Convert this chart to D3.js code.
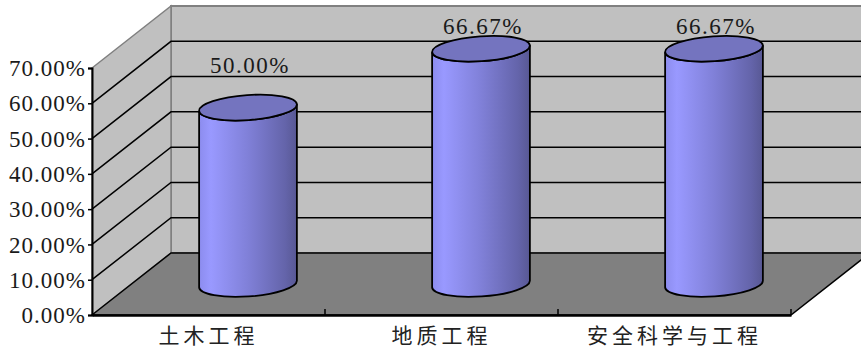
<!DOCTYPE html>
<html>
<head>
<meta charset="utf-8">
<script src="https://cdn.jsdelivr.net/npm/d3@7"></script>
<style>
  body { margin: 0; background: #fff; }
  svg { display: block; }
  .num { font-family: "Liberation Serif", serif; font-size: 23px; letter-spacing: 1px; }
  .cat { font-family: "Noto Sans CJK SC", sans-serif; font-size: 21px; letter-spacing: 4px; }
</style>
</head>
<body>
<svg width="861" height="350"></svg>
<script>
const categories = ["土木工程", "地质工程", "安全科学与工程"];
const values = [0.5, 0.6667, 0.6667];
const valueLabels = ["50.00%", "66.67%", "66.67%"];
const yTicks = [0, 0.1, 0.2, 0.3, 0.4, 0.5, 0.6, 0.7];

const chart = () => {
    const svg = d3.select("svg");

    // front plane + depth offset of the 3d box
    const left = 92, right = 791, bottom = 315, top = 68;
    const depth = { dx: 79, dy: -62 };

    const x = d3.scaleBand()
        .domain(categories)
        .range([left, right])
        .padding(0);

    const y = d3.scaleLinear()
        .domain([0, 0.7])
        .range([bottom, top]);

    const backRight = 900;

    // gradient for the cylinders
    const defs = svg.append("defs");
    const grad = defs.append("linearGradient")
        .attr("id", "cyl")
        .attr("x1", "0").attr("x2", "1").attr("y1", "0").attr("y2", "0");
    grad.append("stop").attr("offset", "0%").attr("stop-color", "#8c8cee");
    grad.append("stop").attr("offset", "12%").attr("stop-color", "#9999ff");
    grad.append("stop").attr("offset", "50%").attr("stop-color", "#8080d8");
    grad.append("stop").attr("offset", "88%").attr("stop-color", "#6464aa");
    grad.append("stop").attr("offset", "100%").attr("stop-color", "#585894");

    // back wall
    svg.append("rect")
        .attr("x", left + depth.dx)
        .attr("y", y(0.7) + depth.dy)
        .attr("width", backRight - left - depth.dx)
        .attr("height", y(0) - y(0.7))
        .attr("fill", "#c0c0c0")
        .attr("stroke", "#808080")
        .attr("stroke-width", 2);

    // side wall
    svg.append("path")
        .attr("d", d3.line()([
            [left, y(0.7)], [left + depth.dx, y(0.7) + depth.dy],
            [left + depth.dx, y(0) + depth.dy], [left, y(0)]
        ]) + "Z")
        .attr("fill", "#c0c0c0")
        .attr("stroke", "#808080")
        .attr("stroke-width", 1.5);

    // floor
    svg.append("path")
        .attr("d", d3.line()([
            [left, y(0)], [left + depth.dx, y(0) + depth.dy],
            [right + depth.dx, y(0) + depth.dy], [right, y(0)]
        ]) + "Z")
        .attr("fill", "#808080")
        .attr("stroke", "#000")
        .attr("stroke-width", 1.5);
    svg.append("line")
        .attr("x1", right + depth.dx).attr("x2", backRight)
        .attr("y1", y(0) + depth.dy).attr("y2", y(0) + depth.dy)
        .attr("stroke", "#808080");

    // gridlines on back and side walls
    const inner = yTicks.filter(d => d > 0 && d < 0.7);
    svg.append("g")
        .attr("stroke", "#000")
        .attr("stroke-width", 1.5)
        .selectAll("path")
        .data(inner)
        .join("path")
        .attr("fill", "none")
        .attr("d", d => d3.line()([
            [left, y(d)],
            [left + depth.dx, y(d) + depth.dy],
            [backRight, y(d) + depth.dy]
        ]));

    // cylinders
    const rx = 49, ry = 12.5, rot = -4;
    const cs = Math.cos(rot * Math.PI / 180), sn = Math.sin(rot * Math.PI / 180);
    const cyl = svg.append("g")
        .selectAll("g")
        .data(categories.map((c, i) => ({ c, v: values[i], label: valueLabels[i] })))
        .join("g");

    cyl.each(function (d) {
        const g = d3.select(this);
        const cx = x(d.c) + x.bandwidth() / 2 + depth.dx / 2;
        const yb = y(0) + depth.dy / 2;
        const yt = y(d.v) + depth.dy / 2;
        const lx = cx - rx * cs, rxp = cx + rx * cs;
        const lo = -rx * sn, ro = rx * sn;
        const body = `M${lx},${yt + lo}L${lx},${yb + lo}` +
            `A${rx},${ry} ${rot} 0 0 ${rxp},${yb + ro}` +
            `L${rxp},${yt + ro}` +
            `A${rx},${ry} ${rot} 0 1 ${lx},${yt + lo}Z`;
        g.append("path")
            .attr("d", body)
            .attr("fill", "url(#cyl)")
            .attr("stroke", "#000")
            .attr("stroke-width", 1.8);
        g.append("ellipse")
            .attr("cx", cx).attr("cy", yt)
            .attr("rx", rx).attr("ry", ry)
            .attr("transform", `rotate(${rot},${cx},${yt})`)
            .attr("fill", "#7474bf")
            .attr("stroke", "#000")
            .attr("stroke-width", 1.8);
        g.append("text")
            .attr("class", "num")
            .attr("x", cx + 2)
            .attr("y", Math.max(yt - 35, 34))
            .attr("text-anchor", "middle")
            .style("letter-spacing", "1.5px")
            .attr("fill", "#1a1a1a")
            .text(d.label);
    });

    // front value axis
    const yAxis = svg.append("g")
        .attr("transform", `translate(${left},0)`)
        .call(d3.axisLeft(y).tickValues(yTicks).tickFormat(d3.format(".2%")).tickSize(4).tickPadding(2));
    yAxis.attr("font-family", null).attr("font-size", null);
    yAxis.select(".domain").attr("stroke", "#000").attr("stroke-width", 2);
    yAxis.selectAll(".tick line").attr("stroke", "#000").attr("stroke-width", 1.5);
    yAxis.selectAll("text")
        .attr("class", "num")
        .attr("dy", "0.33em")
        .attr("fill", "#1a1a1a");

    // category axis
    const xAxis = svg.append("g")
        .attr("transform", `translate(0,${bottom})`)
        .call(d3.axisBottom(x).tickSize(0).tickPadding(10));
    xAxis.attr("font-family", null).attr("font-size", null);
    xAxis.select(".domain").attr("stroke", "#000").attr("stroke-width", 2.5);
    xAxis.selectAll("text")
        .attr("class", "cat")
        .attr("dy", "0.85em")
        .attr("fill", "#222");

    svg.append("g")
        .attr("stroke", "#000")
        .attr("stroke-width", 1.5)
        .selectAll("line")
        .data(categories.slice(1).map(c => x(c)).concat([right]))
        .join("line")
        .attr("x1", d => d).attr("x2", d => d)
        .attr("y1", bottom - 6).attr("y2", bottom);
};

chart();
</script>
</body>
</html>
